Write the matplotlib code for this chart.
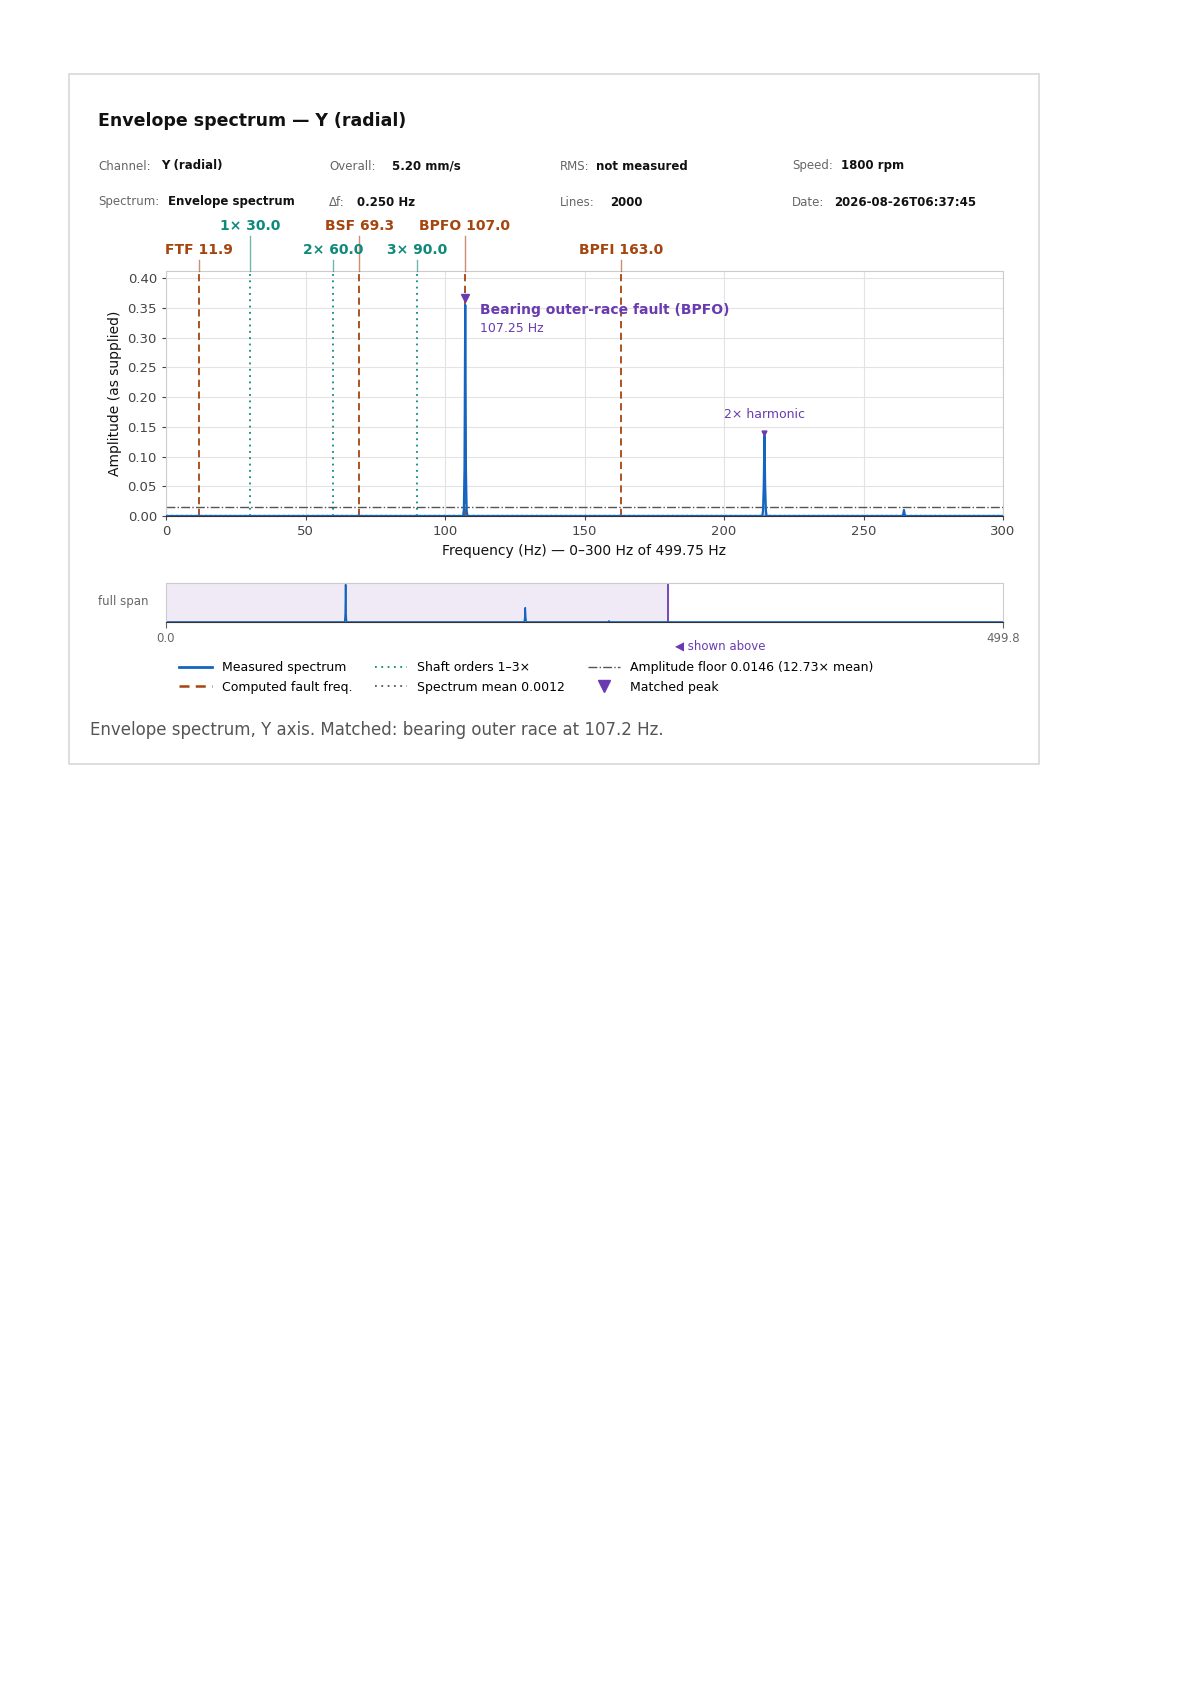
import matplotlib.pyplot as plt
from matplotlib.patches import Rectangle
from matplotlib.lines import Line2D

W, H = 1191, 1684

# spectrum samples (Hz, amplitude)
freq = [0, 106.5, 106.75, 107.0, 107.25, 107.5, 107.75, 108.0,
        213.75, 214.0, 214.25, 214.5, 214.75, 215.0, 215.25,
        264.0, 264.25, 264.5, 264.75, 265.0, 499.75]
amp = [0, 0, 0.01, 0.08, 0.355, 0.08, 0.01, 0,
       0, 0.01, 0.05, 0.135, 0.05, 0.01, 0,
       0, 0.003, 0.01, 0.003, 0, 0]

fault_names = ["FTF", "BSF", "BPFO", "BPFI"]
fault_freqs = [11.9, 69.3, 107.0, 163.0]
fault_rows = [1, 0, 0, 1]
shaft_names = ["1×", "2×", "3×"]
shaft_freqs = [30.0, 60.0, 90.0]
shaft_rows = [0, 1, 1]
floor = 0.0146
mean = 0.0012
peak_f, peak_a = 107.25, 0.355
harm_f, harm_a = 214.5, 0.135

BLUE = "#1565c0"
ORANGE = "#a5450f"
TEAL = "#0e8a7b"
PURPLE = "#6a3bb0"
GRAY = "#555555"

fig = plt.figure(figsize=(W / 100, H / 100), dpi=100)


def fx(px):
    return px / W


def fy(py):
    return 1 - py / H


# card border
fig.patches.append(Rectangle((fx(69), fy(764)), fx(970), 690 / H, transform=fig.transFigure,
                             fill=False, ec="#d8d8d8", lw=1.2))
fig.text(fx(98), fy(121), "Envelope spectrum — Y (radial)", fontsize=12.5, weight="bold",
         va="center", color="#111111")

meta = [
    (98, 166, "Channel:", 161, "Y (radial)"), (329, 166, "Overall:", 392, "5.20 mm/s"),
    (560, 166, "RMS:", 596, "not measured"), (792, 166, "Speed:", 841, "1800 rpm"),
    (98, 202, "Spectrum:", 168, "Envelope spectrum"), (329, 202, "Δf:", 357, "0.250 Hz"),
    (560, 202, "Lines:", 610, "2000"), (792, 202, "Date:", 834, "2026-08-26T06:37:45"),
]
for x0, y0, k, x1, v in meta:
    fig.text(fx(x0), fy(y0), k, fontsize=8.5, color="#666666", va="center")
    fig.text(fx(x1), fy(y0), v, fontsize=8.5, weight="bold", color="#111111", va="center")

ax = fig.add_axes([fx(166), fy(516), fx(837), 245 / H])
ax.plot(freq, amp, color=BLUE, lw=1.6, zorder=4)
ax.fill_between(freq, amp, color=BLUE, alpha=0.25, zorder=3)
for f in fault_freqs:
    ax.axvline(f, color=ORANGE, ls=(0, (4, 2.5)), lw=1.3, zorder=2)
for f in shaft_freqs:
    ax.axvline(f, color=TEAL, ls=(0, (1, 2.5)), lw=1.3, zorder=2)
ax.axhline(floor, color=GRAY, ls="-.", lw=1.0, zorder=2)
ax.axhline(mean, color=GRAY, ls=(0, (1, 2.5)), lw=1.0, zorder=2)
ax.set_xlim(0, 300)
ax.set_ylim(0, 0.412)
ax.set_yticks([0, 0.05, 0.1, 0.15, 0.2, 0.25, 0.3, 0.35, 0.4])
ax.set_xticks([0, 50, 100, 150, 200, 250, 300])
ax.grid(color="#e3e3e3", lw=0.8)
ax.set_axisbelow(True)
ax.tick_params(labelsize=9.5, colors="#444444", length=3)
for s in ax.spines.values():
    s.set_color("#cccccc")
ax.spines["bottom"].set_color("#333333")
ax.set_xlabel("Frequency (Hz) — 0–300 Hz of 499.75 Hz", fontsize=10, color="#111111")
ax.set_ylabel("Amplitude (as supplied)", fontsize=10, color="#111111")

ax.plot([peak_f], [peak_a + 0.012], marker="v", color=PURPLE, ms=6, ls="none", zorder=5)
ax.plot([harm_f], [harm_a + 0.005], marker="v", color=PURPLE, ms=3.5, ls="none", zorder=5)
ax.text(112.5, 0.335, "Bearing outer-race fault (BPFO)", color=PURPLE, fontsize=10, weight="bold",
        va="bottom")
ax.text(112.5, 0.316, "107.25 Hz", color=PURPLE, fontsize=9, va="center")
ax.text(harm_f, 0.17, "2× harmonic", color=PURPLE, fontsize=9, ha="center", va="center")

# labels above plot
row_y = [226, 250]
trans = ax.get_xaxis_transform()
for names, freqs, rows, col, fmt in [(fault_names, fault_freqs, fault_rows, ORANGE, "{} {:.1f}"),
                                     (shaft_names, shaft_freqs, shaft_rows, TEAL, "{} {:.1f}")]:
    for n, f, r in zip(names, freqs, rows):
        yy = fy(row_y[r])
        fig.text(fx(166 + f / 300 * 837), yy, fmt.format(n, f), color=col, fontsize=10,
                 weight="bold", ha="center", va="center")
        top = row_y[r] + 10
        fig.add_artist(Line2D([fx(166 + f / 300 * 837)] * 2, [fy(top), fy(271)],
                              color=col, lw=1.0, alpha=0.6))

# full-span strip
ax2 = fig.add_axes([fx(166), fy(622), fx(837), 39 / H])
ax2.axvspan(0, 300, color="#efeaf6", zorder=0)
ax2.axvline(300, color=PURPLE, lw=1.3)
ax2.plot(freq, amp, color=BLUE, lw=1.2)
ax2.set_xlim(0, 499.75)
ax2.set_ylim(0, 0.37)
ax2.set_yticks([])
ax2.set_xticks([0, 499.75])
ax2.set_xticklabels(["0.0", "499.8"])
ax2.tick_params(labelsize=8.5, colors="#666666", length=4)
for s in ax2.spines.values():
    s.set_color("#cccccc")
ax2.spines["bottom"].set_color("#333333")
fig.text(fx(149), fy(602), "full span", fontsize=8.5, color="#666666", ha="right", va="center")
fig.text(fx(720), fy(646), "◀ shown above", fontsize=8.5, color=PURPLE, ha="center", va="center")

handles = [
    Line2D([], [], color=BLUE, lw=2), Line2D([], [], color=ORANGE, ls=(0, (4, 2.5)), lw=1.8),
    Line2D([], [], color=TEAL, ls=(0, (1, 2.5)), lw=1.3), Line2D([], [], color=GRAY, ls=(0, (1, 2.5)), lw=1.3),
    Line2D([], [], color=GRAY, ls="-.", lw=1.0),
    Line2D([], [], color=PURPLE, marker="v", ls="none", ms=9),
]
labels = ["Measured spectrum", "Computed fault freq.", "Shaft orders 1–3×", "Spectrum mean 0.0012",
          f"Amplitude floor {floor} (12.73× mean)", "Matched peak"]
fig.legend(handles, labels, ncol=3, frameon=False, fontsize=9, loc="upper left",
           bbox_to_anchor=(fx(168), fy(650)), handlelength=2.6, columnspacing=1.8, labelspacing=0.5)

fig.text(fx(90), fy(730), "Envelope spectrum, Y axis. Matched: bearing outer race at 107.2 Hz.",
         fontsize=12, color="#555555", va="center")

fig.savefig("out.png", dpi=100)
